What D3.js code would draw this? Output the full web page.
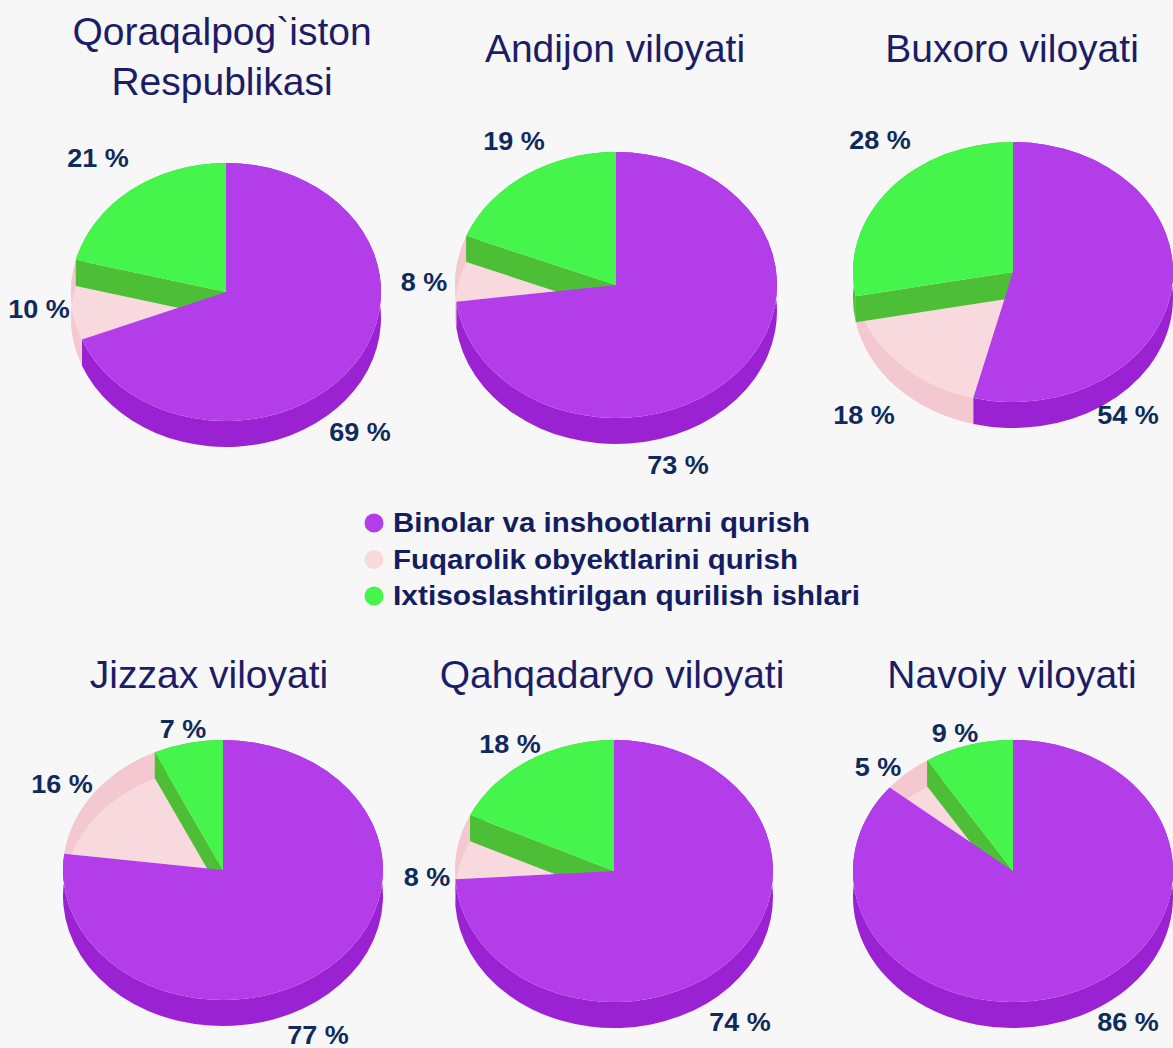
<!DOCTYPE html>
<html>
<head>
<meta charset="utf-8">
<script src="https://cdn.jsdelivr.net/npm/d3@7"></script>
<style>
  html, body { margin: 0; padding: 0; background: #f7f7f7; }
  svg { display: block; }
  .title { font-family: "Liberation Sans", Arial, sans-serif; font-size: 39px; fill: #1c1d66; }
  .lbl { font-family: "Liberation Sans", Arial, sans-serif; font-size: 25px; font-weight: bold; fill: #0f2a5c; }
  .legend text { font-family: "Liberation Sans", Arial, sans-serif; font-size: 27px; font-weight: bold; fill: #131d60; }
</style>
</head>
<body>
<svg id="chart" width="1173" height="1048"></svg>
<script>
// --- data ---
const categories = ["Binolar va inshootlarni qurish", "Fuqarolik obyektlarini qurish", "Ixtisoslashtirilgan qurilish ishlari"];
const regions = ["Qoraqalpog`iston Respublikasi", "Andijon viloyati", "Buxoro viloyati",
                 "Jizzax viloyati", "Qahqadaryo viloyati", "Navoiy viloyati"];
const binolar   = [69, 73, 54, 77, 74, 86];
const fuqarolik = [10, 8, 18, 16, 8, 5];
const ixtisos   = [21, 19, 28, 7, 18, 9];

// --- layout (pie centre / radii, title lines, label spots relative to centre) ---
const layout = [
  { cx: 226, cy: 292, rx: 155, ry: 129, title: ["Qoraqalpog`iston", "Respublikasi"], tx: 222, ty: 45,
    labels: [[134, 140], [-187, 17], [-128, -134]] },
  { cx: 616, cy: 285, rx: 161, ry: 133, tx: 615, ty: 62,
    labels: [[62, 180], [-192, -3], [-102, -144]] },
  { cx: 1013, cy: 272, rx: 160, ry: 130, tx: 1012, ty: 62,
    labels: [[115, 143], [-149, 143], [-133, -132]] },
  { cx: 223, cy: 870, rx: 160, ry: 130, tx: 209, ty: 688,
    labels: [[95, 165], [-161, -86], [-40, -141]] },
  { cx: 614, cy: 871, rx: 159, ry: 131, tx: 612, ty: 688,
    labels: [[126, 151], [-187, 6], [-104, -127]] },
  { cx: 1013, cy: 871, rx: 160, ry: 131, tx: 1012, ty: 688,
    labels: [[115, 151], [-135, -104], [-58, -138]] }
];
const depth = 26;
const legendWidths = [417, 405, 467];

const topColor  = d3.scaleOrdinal().domain(categories).range(["#b33de9", "#f8d9de", "#45f54c"]);
const sideColor = d3.scaleOrdinal().domain(categories).range(["#9b22d3", "#f4c8d1", "#4dbf37"]);

const svg = d3.select("#chart");
const pie = d3.pie().sort(null).value(d => d.value);

function pt(c, a, dy) {
  return [c.cx + c.rx * Math.sin(a), c.cy - c.ry * Math.cos(a) + (dy || 0)];
}
function topPath(c, s) {
  const p1 = pt(c, s.startAngle), p2 = pt(c, s.endAngle);
  const large = s.endAngle - s.startAngle > Math.PI ? 1 : 0;
  return `M${c.cx},${c.cy}L${p1}A${c.rx},${c.ry} 0 ${large} 1 ${p2}Z`;
}
function sidePath(c, s) {
  const p1 = pt(c, s.startAngle), p2 = pt(c, s.endAngle);
  const q1 = pt(c, s.startAngle, depth), q2 = pt(c, s.endAngle, depth);
  const large = s.endAngle - s.startAngle > Math.PI ? 1 : 0;
  return `M${p1}A${c.rx},${c.ry} 0 ${large} 1 ${p2}L${q2}A${c.rx},${c.ry} 0 ${large} 0 ${q1}Z`;
}
function facePath(c, a) {
  return `M${c.cx},${c.cy}L${pt(c, a)}L${pt(c, a, depth)}L${c.cx},${c.cy + depth}Z`;
}

regions.forEach((name, i) => {
  const c = layout[i];
  const vals = [binolar[i], fuqarolik[i], ixtisos[i]];
  const arcs = pie(categories.map((k, j) => ({ key: k, value: vals[j] })));
  const g = svg.append("g");

  // draw order mimics the original 3D renderer
  g.append("path").attr("d", topPath(c, arcs[1])).attr("fill", topColor(arcs[1].data.key));
  arcs.forEach(s => {
    g.append("path").attr("d", sidePath(c, s)).attr("fill", sideColor(s.data.key));
  });
  g.append("path").attr("d", facePath(c, arcs[2].startAngle)).attr("fill", sideColor(arcs[2].data.key));
  g.append("path").attr("d", topPath(c, arcs[0])).attr("fill", topColor(arcs[0].data.key));
  g.append("path").attr("d", topPath(c, arcs[2])).attr("fill", topColor(arcs[2].data.key));

  // percent labels
  arcs.forEach((s, j) => {
    const t = g.append("text").attr("class", "lbl")
      .attr("x", c.cx + c.labels[j][0])
      .attr("y", c.cy + c.labels[j][1])
      .attr("text-anchor", "middle")
      .attr("dominant-baseline", "central")
      .text(s.data.value + " %");
    const w = t.node().getComputedTextLength();
    t.attr("textLength", w * 1.08).attr("lengthAdjust", "spacingAndGlyphs");
  });

  // title
  const lines = c.title || [name];
  lines.forEach((ln, k) => {
    svg.append("text").attr("class", "title")
      .attr("x", c.tx).attr("y", c.ty + k * 50)
      .attr("text-anchor", "middle")
      .text(ln);
  });
});

// legend
const legend = svg.append("g").attr("class", "legend").attr("transform", "translate(374,523)");
categories.forEach((k, j) => {
  const row = legend.append("g").attr("transform", `translate(0,${j * 36.5})`);
  row.append("circle").attr("r", 9.5).attr("fill", topColor(k));
  row.append("text").attr("x", 19).attr("y", 9)
    .attr("textLength", legendWidths[j]).attr("lengthAdjust", "spacingAndGlyphs")
    .text(k);
});
</script>
</body>
</html>
